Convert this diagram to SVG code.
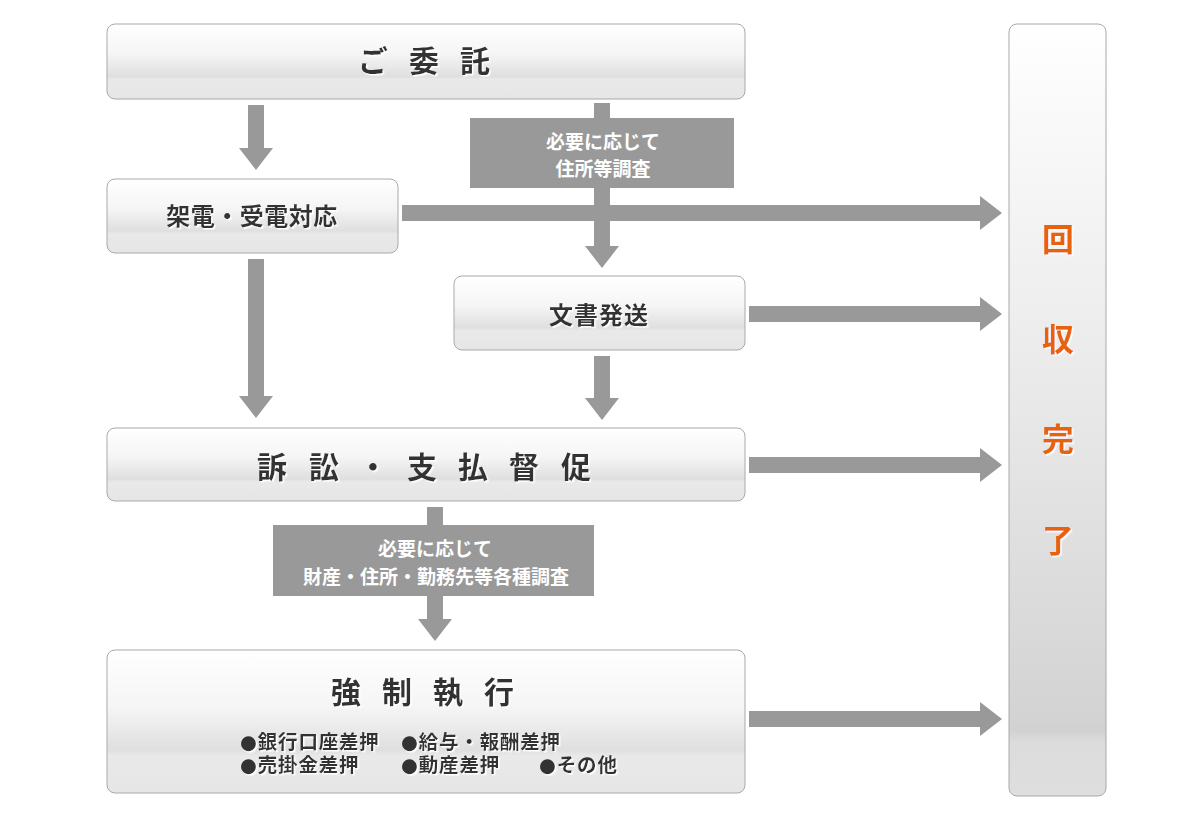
<svg xmlns="http://www.w3.org/2000/svg" width="1200" height="817" viewBox="0 0 1200 817">
<defs>
<linearGradient id="gBox" x1="0" y1="0" x2="0" y2="1">
<stop offset="0" stop-color="#ffffff"/>
<stop offset="0.4" stop-color="#f5f5f5"/>
<stop offset="0.66" stop-color="#e2e2e2"/>
<stop offset="0.7" stop-color="#dfdfdf"/>
<stop offset="0.74" stop-color="#e9e9e9"/>
<stop offset="1" stop-color="#e6e6e6"/>
</linearGradient>
<linearGradient id="gCol" x1="0" y1="0" x2="0" y2="1">
<stop offset="0" stop-color="#ffffff"/>
<stop offset="0.5" stop-color="#e8e8e8"/>
<stop offset="0.9" stop-color="#d3d3d3"/>
<stop offset="0.915" stop-color="#d1d1d1"/>
<stop offset="0.93" stop-color="#dcdcdc"/>
<stop offset="1" stop-color="#dedede"/>
</linearGradient>
<filter id="ws" x="-10%" y="-20%" width="120%" height="150%">
<feDropShadow dx="1.5" dy="1.5" stdDeviation="0.2" flood-color="#ffffff" flood-opacity="1"/>
</filter>
<style>
.box{fill:url(#gBox);stroke:#a9a9a9;stroke-width:1}
.col{fill:url(#gCol);stroke:#a9a9a9;stroke-width:1}
.arr{fill:#999999}
.note{fill:#999999}
.t{font-family:"Noto Sans CJK JP","Noto Sans",sans-serif;font-weight:bold;fill:#333333;filter:url(#ws)}
.big{font-size:30px;text-anchor:middle}
.mid{font-size:24px;text-anchor:middle}
.sm{font-family:"DejaVu Sans","Noto Sans CJK JP",sans-serif;font-size:19.5px;letter-spacing:0.8px}
.nt{font-family:"Noto Sans CJK JP","Noto Sans",sans-serif;font-weight:bold;fill:#ffffff;font-size:19px;text-anchor:middle}
.or{font-family:"Noto Sans CJK JP","Noto Sans",sans-serif;font-weight:bold;fill:#e8620a;font-size:32px;text-anchor:middle;filter:url(#ws)}
</style>
</defs>
<rect width="1200" height="817" fill="#ffffff"/>

<g id="connectors">
<polygon class="arr" points="248,105 264,105 264,148 273,148 256,170 239,148 248,148"/>
<polygon class="arr" points="248,259 264,259 264,396 273,396 256,418 239,396 248,396"/>
<polygon class="arr" points="594,103 610,103 610,246 619,246 602,268 585,246 594,246"/>
<polygon class="arr" points="594,356 610,356 610,398 619,398 602,420 585,398 594,398"/>
<polygon class="arr" points="427,507 443,507 443,619 452,619 435,641 418,619 427,619"/>
<polygon class="arr" points="402,205 980,205 980,196 1002,213 980,230 980,221 402,221"/>
<polygon class="arr" points="749,306 980,306 980,297 1002,314 980,331 980,322 749,322"/>
<polygon class="arr" points="749,457 980,457 980,448 1002,465 980,482 980,473 749,473"/>
<polygon class="arr" points="749,711 980,711 980,702 1002,719 980,736 980,727 749,727"/>
</g>

<g id="note1">
<rect class="note" x="470" y="118" width="264" height="70"/>
<text class="nt" x="603" y="149">必要に応じて</text>
<text class="nt" x="603" y="176">住所等調査</text>
</g>

<g id="note2">
<rect class="note" x="273" y="525" width="321" height="71"/>
<text class="nt" x="435" y="556">必要に応じて</text>
<text class="nt" x="436" y="584">財産・住所・勤務先等各種調査</text>
</g>

<g id="node-itaku">
<rect class="box" x="107" y="24" width="638" height="75" rx="8"/>
<text class="t big" x="373 424 475" y="72">ご委託</text>
</g>

<g id="node-kaden">
<rect class="box" x="107" y="179" width="291" height="74" rx="8"/>
<text class="t mid" x="252" y="225" letter-spacing="0.5">架電・受電対応</text>
</g>

<g id="node-bunsho">
<rect class="box" x="454" y="276" width="291" height="74" rx="8"/>
<text class="t mid" x="599" y="324" letter-spacing="1">文書発送</text>
</g>

<g id="node-sosho">
<rect class="box" x="107" y="428" width="638" height="73" rx="8"/>
<text class="t big" x="272 324 373 422 473 524 576" y="478">訴訟・支払督促</text>
</g>

<g id="node-kyosei">
<rect class="box" x="107" y="650" width="638" height="143" rx="8"/>
<text class="t big" x="346 397 448 499" y="703">強制執行</text>
<text class="t sm"><tspan x="240" y="749">●銀行口座差押</tspan><tspan x="401" y="749">●給与・報酬差押</tspan><tspan x="240" y="772">●売掛金差押</tspan><tspan x="401" y="772">●動産差押</tspan><tspan x="539" y="772">●その他</tspan></text>
</g>

<g id="node-kaishu">
<rect class="col" x="1009" y="24" width="97" height="772" rx="8"/>
<text class="or" x="1058" y="251">回</text>
<text class="or" x="1058" y="351">収</text>
<text class="or" x="1058" y="451">完</text>
<text class="or" x="1058" y="552">了</text>
</g>
</svg>
